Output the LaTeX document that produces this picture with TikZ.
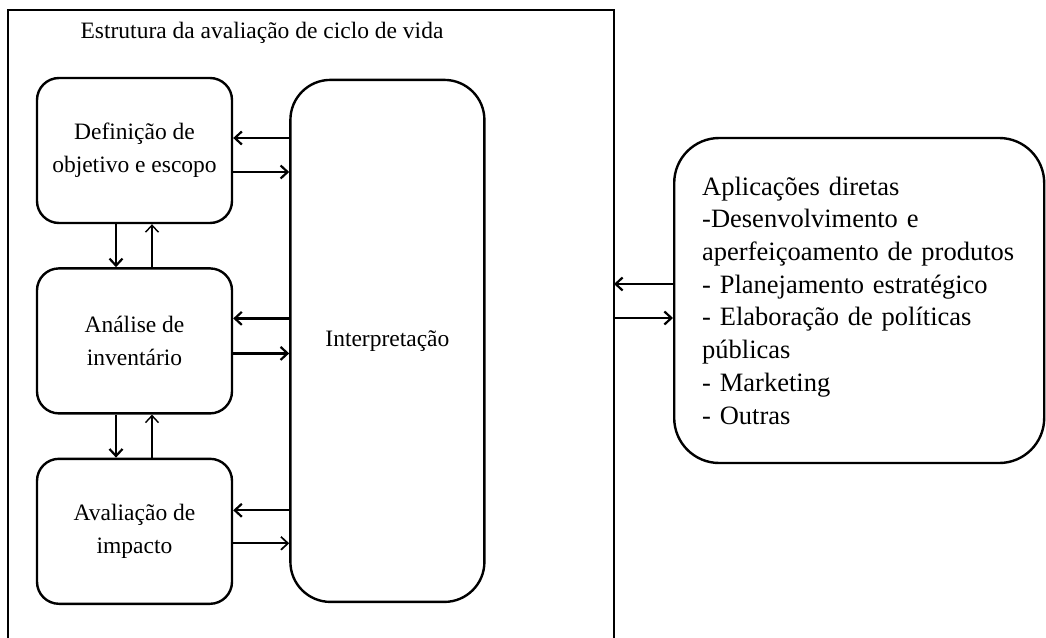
\documentclass[tikz,border=0pt]{standalone}
\usepackage{fontspec}
\setmainfont{Liberation Serif}
\usetikzlibrary{positioning,arrows.meta}

\begin{document}
\begin{tikzpicture}[x=1pt, y=-1pt, -{Straight Barb[length=7pt,width=13pt]}, line width=2.2pt, node distance=43pt and 56pt, font=\fontsize{23.5}{33}\selectfont, etapa/.style={rectangle, rounded corners=22pt, draw, line width=2.4pt, minimum width=195pt, minimum height=145pt, align=center}, interp/.style={rectangle, rounded corners=40pt, draw, line width=2.4pt, minimum width=194pt, minimum height=522pt}, aplic/.style={rectangle, rounded corners=45pt, draw, line width=2.4pt, minimum width=370pt, minimum height=325pt, text width=314pt, inner xsep=27pt, align=left, font=\fontsize{26.5}{32.7}\selectfont}]
	\useasboundingbox (0,0) rectangle (1046,637);
	\draw[-, line width=1.6pt] (8,640) -- (8,10) -- (614,10) -- (614,640);
	\node (tit) at (262,33) {Estrutura da avaliação de ciclo de vida};
	\node[etapa] (def) at (134.5,150.5) {Definição de\\objetivo e escopo};
	\node[etapa] (inv) [below = of def] {Análise de\\inventário};
	\node[etapa] (aval) [below = of inv] {Avaliação de\\impacto};
	\node[interp] (int) [right = of inv] {Interpretação};
	\node[aplic, anchor=west] (apl) at (673,300.5) {Aplicações diretas\\-Desenvolvimento e\\aperfeiçoamento de produtos\\- Planejamento estratégico\\- Elaboração de políticas\\públicas\\- Marketing\\- Outras};
	\coordinate (fr) at (614,300.5);
	\draw ([yshift=12.5pt]int.west |- def.east) -- ([yshift=12.5pt]def.east);
	\draw ([yshift=-21.5pt]def.east) -- ([yshift=-21.5pt]int.west |- def.east);
	\draw ([yshift=22.5pt]int.west |- inv.east) -- ([yshift=22.5pt]inv.east);
	\draw ([yshift=-12.5pt]inv.east) -- ([yshift=-12.5pt]int.west |- inv.east);
	\draw ([yshift=21pt]int.west |- aval.east) -- ([yshift=21pt]aval.east);
	\draw[line width=1.7pt] ([yshift=-12pt]aval.east) -- ([yshift=-12pt]int.west |- aval.east);
	\draw ([xshift=-18.5pt]def.south) -- ([xshift=-18.5pt]inv.north);
	\draw[line width=1.4pt] ([xshift=17.5pt]inv.north) -- ([xshift=17.5pt]def.south);
	\draw ([xshift=-18.5pt]inv.south) -- ([xshift=-18.5pt]aval.north);
	\draw[line width=1.4pt] ([xshift=17.5pt]aval.north) -- ([xshift=17.5pt]inv.south);
	\draw ([yshift=16.5pt]apl.west) -- ([yshift=16.5pt]fr);
	\draw ([yshift=-17.5pt]fr) -- ([yshift=-17.5pt]apl.west);
\end{tikzpicture}
\end{document}
